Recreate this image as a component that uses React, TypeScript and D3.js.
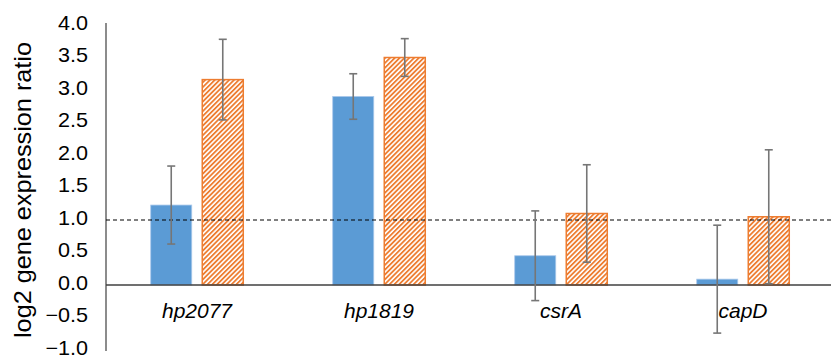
import React from "react";
import * as d3 from "d3";

const categories = ["hp2077", "hp1819", "csrA", "capD"];
const seriesKeys = ["blue", "orange"];
const blueValues = [1.23, 2.9, 0.45, 0.09];
const blueErrors = [0.6, 0.35, 0.69, 0.83];
const orangeValues = [3.16, 3.5, 1.1, 1.05];
const orangeErrors = [0.62, 0.29, 0.75, 1.03];
const yTicks = [-1, -0.5, 0, 0.5, 1, 1.5, 2, 2.5, 3, 3.5, 4];
const referenceLine = 1;

const width = 831;
const height = 359;
const font = "Liberation Sans, Arial, sans-serif";

export default function App() {
  const x0 = d3.scaleBand().domain(categories).range([106, 834]).padding(0);
  const x1 = d3
    .scaleBand()
    .domain(seriesKeys)
    .range([0, x0.bandwidth()])
    .paddingInner(0.204)
    .paddingOuter(0.868);
  const y = d3.scaleLinear().domain([-1, 4]).range([350, 25]);

  const rows = categories.map((c, i) => ({
    name: c,
    bars: [
      { key: "blue", value: blueValues[i], err: blueErrors[i] },
      { key: "orange", value: orangeValues[i], err: orangeErrors[i] },
    ],
  }));

  const fmt = d3.format(".1f");

  return (
    <svg width={width} height={height} style={{ display: "block", position: "absolute", left: 0, top: 0 }}>
      <defs>
        <pattern id="hatch" patternUnits="userSpaceOnUse" width="3.4" height="3.4" patternTransform="rotate(45)">
          <rect width="3.4" height="3.4" fill="#ffffff" />
          <rect width="1.8" height="3.4" fill="#ed7d31" />
        </pattern>
      </defs>
      <rect width={width} height={height} fill="#fff" />

      {/* y tick labels */}
      <g fontFamily={font} fontSize="20" fill="#000" textAnchor="end">
        {yTicks.map((t) => (
          <text key={t} x={88} y={y(t) - 2} dy="0.35em" transform={`translate(88,0) scale(1.08,1) translate(-88,0)`}>
            {fmt(t)}
          </text>
        ))}
      </g>

      {/* axis title */}
      <text
        transform={`translate(31,190) rotate(-90)`}
        textAnchor="middle"
        fontFamily={font}
        fontSize="24"
        textLength={296}
        lengthAdjust="spacingAndGlyphs"
      >
        log2 gene expression ratio
      </text>

      {/* y axis line */}
      <line x1={106} x2={106} y1={y(4) - 2} y2={y(-1) + 1} stroke="#8c8c8c" strokeWidth={2} />

      {/* bars */}
      {rows.map((r) => (
        <g key={r.name} transform={`translate(${x0(r.name)},0)`}>
          {r.bars.map((b) => (
            <rect
              key={b.key}
              x={x1(b.key)}
              y={y(b.value)}
              width={x1.bandwidth()}
              height={y(0) - y(b.value)}
              fill={b.key === "blue" ? "#5b9bd5" : "url(#hatch)"}
              stroke={b.key === "blue" ? "#a9c8ea" : "#ed7d31"}
              strokeWidth={b.key === "blue" ? 0.8 : 1.5}
            />
          ))}
        </g>
      ))}

      {/* baseline */}
      <line x1={106} x2={width} y1={y(0)} y2={y(0)} stroke="#404040" strokeWidth={1.5} />

      {/* reference line */}
      <line
        x1={106}
        x2={width}
        y1={y(referenceLine)}
        y2={y(referenceLine)}
        stroke="#000"
        strokeWidth={1.2}
        strokeDasharray="4,3"
      />

      {/* error bars */}
      {rows.map((r) => (
        <g key={r.name} transform={`translate(${x0(r.name)},0)`} stroke="#767676" strokeWidth={1.6}>
          {r.bars.map((b) => {
            const cx = (x1(b.key) as number) + x1.bandwidth() / 2;
            const top = y(b.value + b.err);
            const bot = y(b.value - b.err);
            return (
              <g key={b.key}>
                <line x1={cx} x2={cx} y1={top} y2={bot} />
                <line x1={cx - 4} x2={cx + 4} y1={top} y2={top} />
                <line x1={cx - 4} x2={cx + 4} y1={bot} y2={bot} />
              </g>
            );
          })}
        </g>
      ))}

      {/* category labels */}
      <g fontFamily={font} fontSize="21" fontStyle="italic" textAnchor="middle">
        {categories.map((c) => (
          <text key={c} x={(x0(c) as number) + x0.bandwidth() / 2} y={318}>
            {c}
          </text>
        ))}
      </g>
    </svg>
  );
}
